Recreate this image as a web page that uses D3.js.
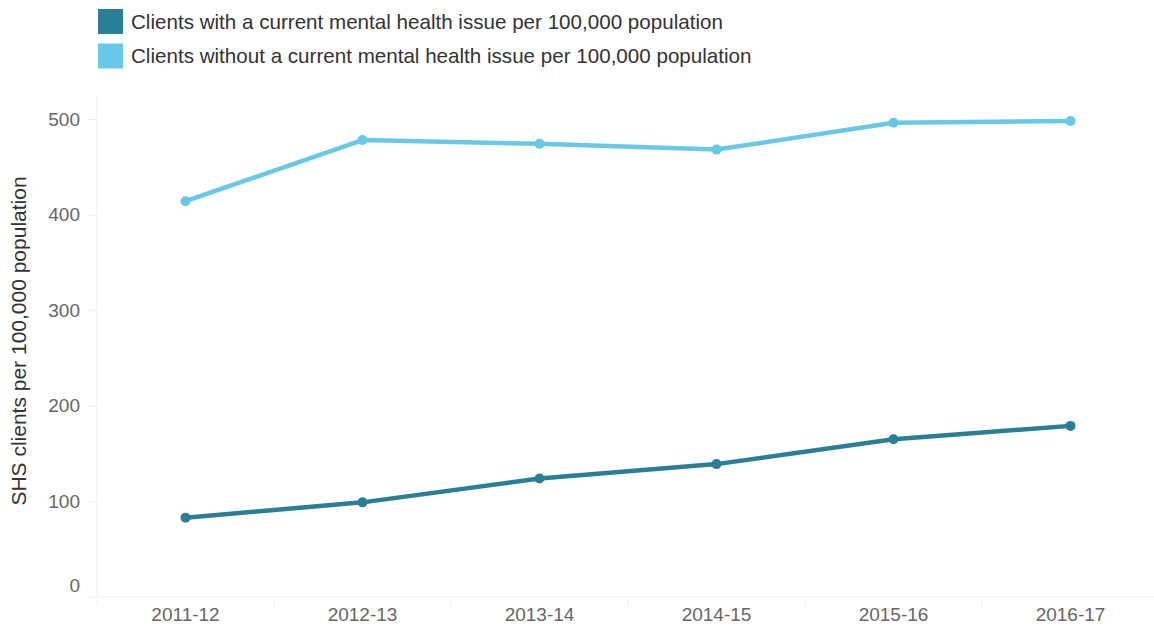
<!DOCTYPE html>
<html><head><meta charset="utf-8">
<script src="https://cdn.jsdelivr.net/npm/d3@7"></script>
<style>body{margin:0;background:#fff}svg text{font-family:"Liberation Sans",Arial,sans-serif}</style>
</head><body><svg id="c" width="1154" height="628"></svg>
<script>
const categories = ["2011-12","2012-13","2013-14","2014-15","2015-16","2016-17"];
const withMH = [83, 99, 124, 139, 165, 179];
const withoutMH = [414, 478, 474, 468, 496, 498];
const seriesNames = ["Clients with a current mental health issue per 100,000 population","Clients without a current mental health issue per 100,000 population"];
const seriesColors = ["#2a7f96","#67c8e8"];
const yTicks = [0,100,200,300,400,500];

const svg = d3.select("#c");
const pLeft = 97, pRight = 1159, pTop = 119, pBottom = 597;
const x = d3.scaleBand().domain(categories).range([pLeft, pRight]);
const y = d3.scaleLinear().domain([0, 500]).range([pBottom, pTop]);

// axes lines
svg.append("line").attr("x1",pLeft).attr("x2",pLeft).attr("y1",95).attr("y2",pBottom).attr("stroke","#eee").attr("stroke-width",1);
svg.append("line").attr("x1",pLeft).attr("x2",1154).attr("y1",pBottom).attr("y2",pBottom).attr("stroke","#eee").attr("stroke-width",1);

const gy = svg.append("g").attr("transform",`translate(${pLeft},0)`)
  .call(d3.axisLeft(y).tickValues(yTicks).tickSize(9).tickPadding(8));
gy.select(".domain").remove();
gy.selectAll(".tick line").attr("stroke","#eee");
gy.selectAll(".tick text").attr("fill","#666").attr("font-size","19px").attr("font-family",null)
  .attr("dy", d => d === 0 ? "-0.3em" : "0.32em");

const gx = svg.append("g").attr("transform",`translate(0,${pBottom})`)
  .call(d3.axisBottom(x).tickSize(0).tickPadding(11));
gx.select(".domain").remove();
gx.selectAll(".tick text").attr("fill","#666").attr("font-size","19px").attr("font-family",null);
// category separator ticks
svg.append("g").selectAll("line").data(categories).join("line")
  .attr("x1", d => x(d)).attr("x2", d => x(d)).attr("y1", pBottom+3).attr("y2", pBottom+9)
  .attr("stroke","#eee");

// y title
svg.append("text").attr("transform",`translate(26,341) rotate(-90)`)
  .attr("text-anchor","middle").attr("fill","#333").attr("font-size","21px")
  .text("SHS clients per 100,000 population");

const line = d3.line().x((d,i)=>x(categories[i])+x.bandwidth()/2).y(d=>y(d));
[withoutMH, withMH].forEach((data, k) => {
  const col = k === 0 ? seriesColors[1] : seriesColors[0];
  svg.append("path").datum(data).attr("d", line).attr("fill","none").attr("stroke",col).attr("stroke-width",4.5).attr("stroke-linejoin","round");
  svg.append("g").selectAll("circle").data(data).join("circle")
    .attr("cx",(d,i)=>x(categories[i])+x.bandwidth()/2).attr("cy",d=>y(d)).attr("r",5).attr("fill",col);
});

// legend
const lg = svg.append("g");
seriesNames.forEach((n,i)=>{
  lg.append("rect").attr("x",98).attr("y",9+i*34.5).attr("width",25).attr("height",25).attr("fill",seriesColors[i]);
  lg.append("text").attr("x",131).attr("y",21.5+i*34.5).attr("dy","0.35em").attr("fill","#333").attr("font-size","20.6px").text(n);
});
</script></body></html>
